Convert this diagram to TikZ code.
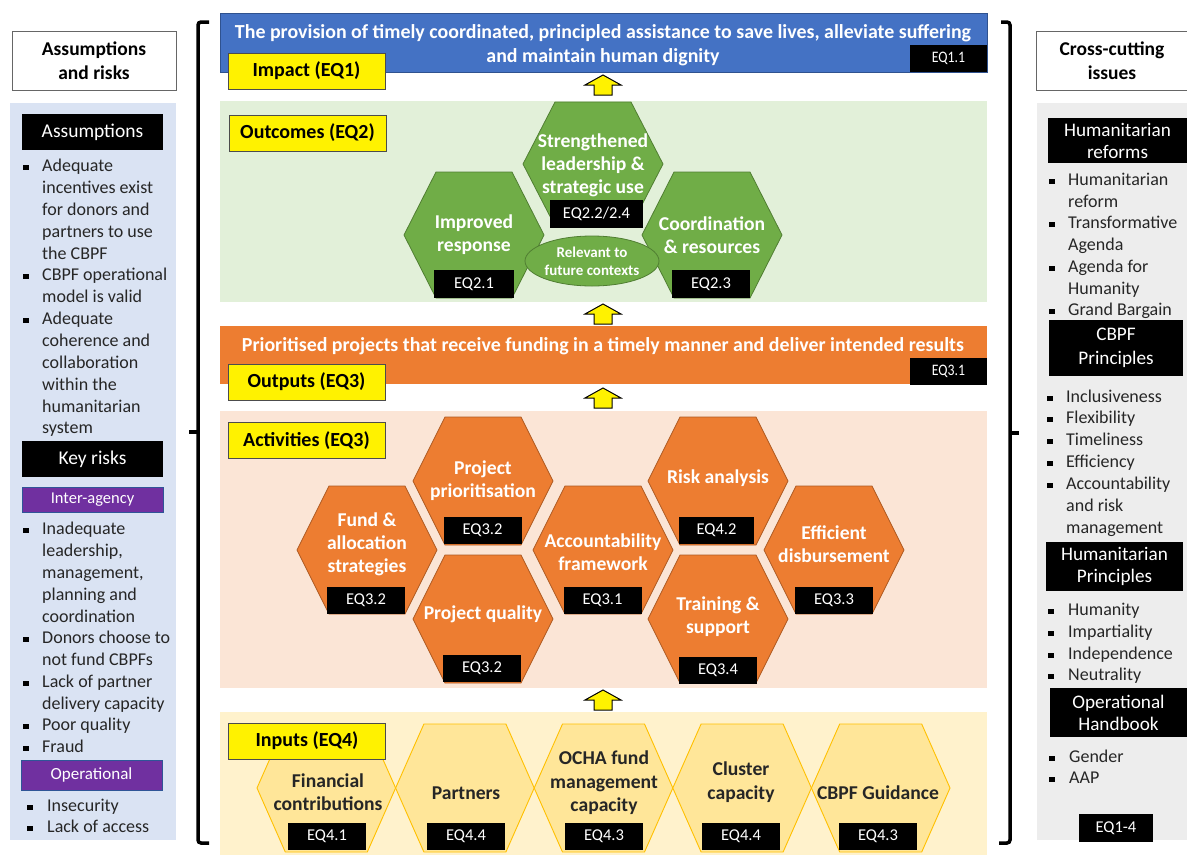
\documentclass[tikz,border=0pt]{standalone}
\usepackage{fontspec}
\setmainfont{Carlito}
\newfontfamily\cond[FakeStretch=0.86]{Carlito}
\usetikzlibrary{shapes.geometric,calc}
\definecolor{impblue}{HTML}{4472C4}
\definecolor{impedge}{HTML}{2F528F}
\definecolor{outbg}{HTML}{E2F0D9}
\definecolor{hgreen}{HTML}{70AD47}
\definecolor{hgreenedge}{HTML}{507E32}
\definecolor{oorange}{HTML}{ED7D31}
\definecolor{oedge}{HTML}{AE5A21}
\definecolor{actbg}{HTML}{FBE5D6}
\definecolor{inbg}{HTML}{FFF2CC}
\definecolor{inhex}{HTML}{FFE699}
\definecolor{inedge}{HTML}{FFC000}
\definecolor{leftbg}{HTML}{DAE3F3}
\definecolor{rightbg}{HTML}{EDEDED}
\definecolor{purp}{HTML}{7030A0}
\definecolor{purpedge}{HTML}{2F5597}
\definecolor{dtext}{HTML}{262626}
\newcounter{bc}
\newcommand\hexa[6]{% cx cy hw tw hh style
  \draw[#6] ({#1-#3},{#2}) -- ({#1-#4},{#2-#5}) -- ({#1+#4},{#2-#5}) -- ({#1+#3},{#2}) -- ({#1+#4},{#2+#5}) -- ({#1-#4},{#2+#5}) -- cycle;}
\newcommand\bul[4]{% textx bulletx cy text
  \stepcounter{bc}%
  \node[btxt] (bt\arabic{bc}) at (#1,{#3-9.5}) {\strut #4};
  \fill ({#2-2.6},{#3-1.5}) rectangle ++(5.2,5.2);}
\newcommand\uparr[2]{% cx top
  \draw[uparrow] (#1,#2) -- ++(18,10) -- ++(-9,0) -- ++(0,10) -- ++(-18,0) -- ++(0,-10) -- ++(-9,0) -- cycle;}
\begin{document}
\begin{tikzpicture}[x=1pt,y=-1pt,
  btxt/.style={anchor=north west, inner sep=0, align=left, text=dtext, font=\fontsize{18}{21.8}\selectfont},
  lbl/.style={draw=black!70, fill=yellow, line width=0.8pt, minimum width=157pt, minimum height=36pt, inner sep=0, font=\bfseries\fontsize{20}{22}\selectfont},
  eqb/.style={fill=black, text=white, inner sep=0, minimum height=27pt, minimum width=78pt, font=\fontsize{16.5}{18}\selectfont},
  blk/.style={fill=black, text=white, inner sep=0, align=center, font=\fontsize{19.5}{22.5}\selectfont},
  purpb/.style={fill=purp, draw=purpedge, line width=0.8pt, text=white, inner sep=0, minimum width=141pt},
  hdr/.style={draw=black!60, fill=white, line width=0.8pt, inner sep=0, align=center, font=\bfseries\fontsize{19.5}{24}\selectfont},
  htxt/.style={text=white, inner sep=0, align=center, font=\bfseries\fontsize{19.6}{23.2}\selectfont},
  itxt/.style={text=dtext, inner sep=0, align=center, font=\bfseries\fontsize{19.6}{23.5}\selectfont},
  ghex/.style={fill=hgreen, draw=hgreenedge, line width=0.8pt},
  ohex/.style={fill=oorange, draw=oedge, line width=0.8pt},
  ihex/.style={fill=inhex, draw=inedge, line width=0.9pt},
  uparrow/.style={fill=yellow, draw=black, line width=1pt, line join=miter},
  brk/.style={line width=3.5pt, rounded corners=3pt}]
\useasboundingbox (0,0) rectangle (1187,855);
\fill[white] (0,0) rectangle (1187,855);

% ---------- left column ----------
\node[hdr, minimum width=164pt, minimum height=59pt] (asshdr) at (94,60.5) {Assumptions\\and risks};
\fill[leftbg] (10,103) rectangle (176,840);
\node[blk, minimum width=141pt, minimum height=36pt] (assm) at (92.5,132) {Assumptions};
\bul{42}{26}{166}{Adequate\\incentives exist\\for donors and\\partners to use\\the CBPF}
\bul{42}{26}{275}{CBPF operational\\model is valid}
\bul{42}{26}{319}{Adequate\\coherence and\\collaboration\\within the\\humanitarian\\system}
\node[blk, minimum width=141pt, minimum height=36pt] (keyr) at (92.5,459) {Key risks};
\node[purpb, minimum height=25pt, font=\fontsize{16.5}{18}\selectfont] (interag) at (92.5,499.5) {Inter-agency};
\bul{42}{26}{529}{Inadequate\\leadership,\\management,\\planning and\\coordination}
\bul{42}{26}{638}{Donors choose to\\not fund CBPFs}
\bul{42}{26}{682}{Lack of partner\\delivery capacity}
\bul{42}{26}{725}{Poor quality}
\bul{42}{26}{747}{Fraud}
\node[purpb, minimum height=30pt, font=\fontsize{17}{19}\selectfont] (operl) at (91.5,775) {Operational};
\bul{47}{30}{806}{Insecurity}
\bul{47}{30}{827}{Lack of access}

% ---------- brackets ----------
\draw[brk] (209,22) -- (198,22) -- (198,843) -- (209,843);
\draw[brk] (198,432) -- (189,432);
\draw[brk] (1001,22) -- (1010,22) -- (1010,843) -- (999,843);
\draw[brk] (1010,433) -- (1019,433);

% ---------- right column ----------
\node[hdr, minimum width=152pt, minimum height=59pt] (cchdr) at (1112,60.5) {Cross-cutting\\issues};
\fill[rightbg] (1037,103) rectangle (1187,840);
\node[blk, minimum width=139pt, minimum height=45pt, font=\fontsize{19.2}{22}\selectfont] (hrefs) at (1117.5,140.5) {Humanitarian\\reforms};
\bul{1068}{1052}{180}{Humanitarian\\reform}
\bul{1068}{1052}{223}{Transformative\\Agenda}
\bul{1068}{1052}{267}{Agenda for\\Humanity}
\bul{1068}{1052}{310}{Grand Bargain}
\node[blk, minimum width=134pt, minimum height=56pt, font=\fontsize{19.2}{24}\selectfont] (cbpfp) at (1116,348) {CBPF\\Principles};
\bul{1066}{1050}{397}{Inclusiveness}
\bul{1066}{1050}{418}{Flexibility}
\bul{1066}{1050}{440}{Timeliness}
\bul{1066}{1050}{462}{Efficiency}
\bul{1066}{1050}{484}{Accountability\\and risk\\management}
\node[blk, minimum width=137pt, minimum height=49pt, font=\fontsize{19.2}{22}\selectfont] (hump) at (1114.5,566.5) {Humanitarian\\Principles};
\bul{1068}{1051}{610}{Humanity}
\bul{1068}{1051}{632}{Impartiality}
\bul{1068}{1051}{654}{Independence}
\bul{1068}{1051}{675}{Neutrality}
\node[blk, minimum width=137pt, minimum height=49pt, font=\fontsize{19.2}{22}\selectfont] (opsh) at (1118.5,712.5) {Operational\\Handbook};
\bul{1069}{1052}{757}{Gender}
\bul{1069}{1052}{778}{AAP}
\node[eqb, minimum width=74pt, minimum height=28pt] (eq14) at (1116,828) {EQ1-4};

% ---------- impact ----------
\node[fill=impblue, draw=impedge, line width=0.6pt, minimum width=767pt, minimum height=59pt, inner sep=0] (impact) at (603.5,42.5) {};
\node[htxt, font=\bfseries\fontsize{19.9}{24}\selectfont] (imptxt) at (603,45.5) {The provision of timely coordinated, principled assistance to save lives, alleviate suffering\\and maintain human dignity};
\node[eqb, minimum width=77pt, font=\cond\fontsize{16}{17}\selectfont] (eq11) at (948.5,58.5) {EQ1.1};
\node[lbl] (implbl) at (306.5,71) {Impact (EQ1)};
\uparr{603}{75}

% ---------- outcomes ----------
\node[fill=outbg, minimum width=767pt, minimum height=201pt, inner sep=0] (outcomes) at (603.5,201.5) {};
\node[lbl] (outlbl) at (307.5,133) {Outcomes (EQ2)};
\hexa{593}{164}{70}{38}{62}{ghex}
\hexa{474}{235}{70}{38}{63}{ghex}
\hexa{712}{235}{70}{38}{63}{ghex}
\node[htxt] (o1) at (593,165) {Strengthened\\leadership \&\\strategic use};
\node[htxt] (o2) at (474,235) {Improved\\response};
\node[htxt] (o3) at (712,235) {Coordination\\\& resources};
\node[ellipse, fill=hgreen, draw=hgreenedge, line width=0.8pt, minimum width=104pt, minimum height=50pt, inner sep=0, text=white, align=center, font=\bfseries\fontsize{15}{18}\selectfont] (relev) at (592,261) {Relevant to\\future contexts};
\node[eqb, minimum width=93pt, minimum height=28pt] (eq22) at (596.5,213.5) {EQ2.2/2.4};
\node[eqb, minimum width=80pt, minimum height=28pt] (eq21) at (474,284) {EQ2.1};
\node[eqb, minimum width=78pt, minimum height=28pt] (eq23) at (711,284) {EQ2.3};
\uparr{603}{304}

% ---------- outputs ----------
\node[fill=oorange, minimum width=767pt, minimum height=58pt, inner sep=0] (outputs) at (603.5,355) {};
\node[htxt, font=\bfseries\fontsize{19.9}{24}\selectfont] (outtxt) at (603,346.5) {Prioritised projects that receive funding in a timely manner and deliver intended results};
\node[eqb, minimum width=77pt, font=\cond\fontsize{16}{17}\selectfont] (eq31o) at (948.5,371.5) {EQ3.1};
\node[lbl] (outplbl) at (306.5,382) {Outputs (EQ3)};
\uparr{603}{388}

% ---------- activities ----------
\node[fill=actbg, minimum width=767pt, minimum height=277pt, inner sep=0] (activities) at (603.5,549.5) {};
\node[lbl] (actlbl) at (306.5,440.5) {Activities (EQ3)};
\hexa{367}{550}{70}{38}{64}{ohex}
\hexa{483}{481}{70}{38}{64}{ohex}
\hexa{483}{619}{70}{38}{64}{ohex}
\hexa{603}{550}{70}{38}{64}{ohex}
\hexa{718}{481}{70}{38}{64}{ohex}
\hexa{718}{619}{70}{38}{64}{ohex}
\hexa{834}{550}{70}{38}{64}{ohex}
\node[htxt] (a1) at (367,544) {Fund \&\\allocation\\strategies};
\node[htxt] (a2) at (483,481) {Project\\prioritisation};
\node[htxt] (a3) at (483,614) {Project quality};
\node[htxt] (a4) at (603,552) {Accountability\\framework};
\node[htxt] (a5) at (718,478) {Risk analysis};
\node[htxt] (a6) at (718,617) {Training \&\\support};
\node[htxt] (a7) at (834,544) {Efficient\\disbursement};
\node[eqb] (e1) at (366,600.5) {EQ3.2};
\node[eqb] (e2) at (482.5,530) {EQ3.2};
\node[eqb] (e3) at (482,668) {EQ3.2};
\node[eqb] (e4) at (602.5,600.5) {EQ3.1};
\node[eqb, minimum width=75pt] (e5) at (716.5,530) {EQ4.2};
\node[eqb] (e6) at (718,670) {EQ3.4};
\node[eqb] (e7) at (834,600.5) {EQ3.3};
\uparr{603}{690}

% ---------- inputs ----------
\node[fill=inbg, minimum width=767pt, minimum height=143pt, inner sep=0] (inputs) at (603.5,783.5) {};
\hexa{326.3}{788}{69.3}{41}{64}{ihex}
\hexa{464.9}{788}{69.3}{41}{64}{ihex}
\hexa{603.5}{788}{69.3}{41}{64}{ihex}
\hexa{742.1}{788}{69.3}{41}{64}{ihex}
\hexa{880.7}{788}{69.3}{41}{64}{ihex}
\node[lbl] (inlbl) at (307,741) {Inputs (EQ4)};
\node[itxt] (i1) at (328,792) {Financial\\contributions};
\node[itxt] (i2) at (466,793) {Partners};
\node[itxt] (i3) at (604,783) {OCHA fund\\management\\capacity};
\node[itxt] (i4) at (741,782) {Cluster\\capacity};
\node[itxt] (i5) at (878,793) {CBPF Guidance};
\node[eqb] (f1) at (327,836.5) {EQ4.1};
\node[eqb] (f2) at (466,836.5) {EQ4.4};
\node[eqb] (f3) at (604,836.5) {EQ4.3};
\node[eqb] (f4) at (741,836.5) {EQ4.4};
\node[eqb] (f5) at (878,836.5) {EQ4.3};
\end{tikzpicture}
\end{document}
